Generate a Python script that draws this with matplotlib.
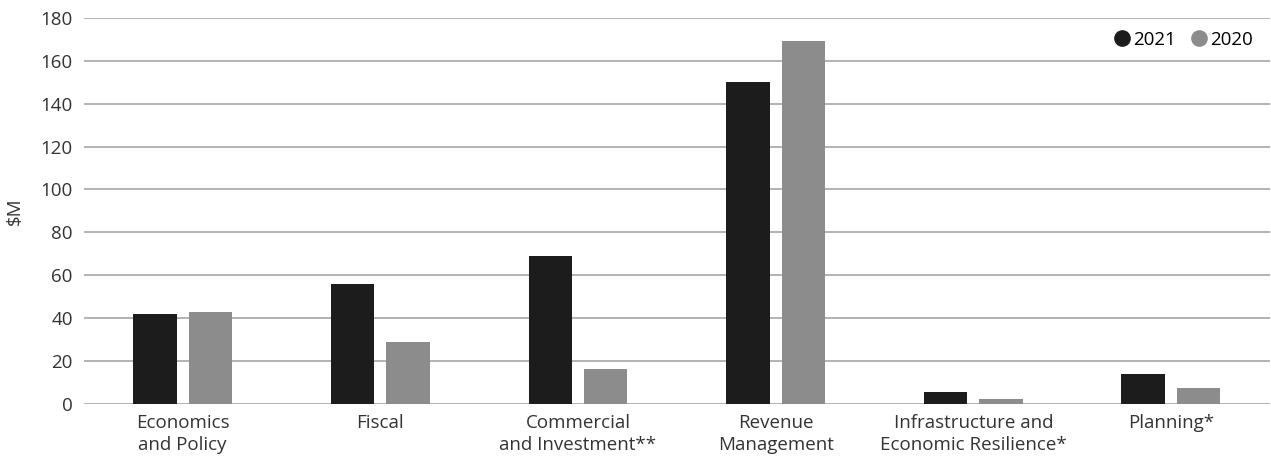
import numpy as np
import matplotlib.pyplot as plt
from matplotlib.lines import Line2D

plt.rcParams['font.family'] = ['Open Sans', 'DejaVu Sans']

categories = ["Economics\nand Policy", "Fiscal", "Commercial\nand Investment**",
              "Revenue\nManagement", "Infrastructure and\nEconomic Resilience*", "Planning*"]
values_2021 = [42, 56, 69, 150, 5.5, 14]
values_2020 = [43, 29, 16.5, 169, 2.5, 7.5]

col_2021 = '#1c1c1c'
col_2020 = '#8c8c8c'

fig = plt.figure(figsize=(12.71, 4.57), dpi=100)
ax = fig.add_axes([0.066, 0.116, 0.933, 0.845])

x = np.arange(len(categories))
w = 0.22
ax.bar(x - 0.14, values_2021, w, color=col_2021, zorder=3)
ax.bar(x + 0.14, values_2020, w, color=col_2020, zorder=3)

ax.set_xlim(-0.5, len(categories) - 0.5)
ax.set_ylim(0, 180)
ax.set_yticks(range(0, 181, 20))
ax.set_xticks(x)
ax.set_xticklabels(categories, fontsize=13.5, color='#333333', linespacing=1.3)
ax.tick_params(axis='y', labelsize=13.5, colors='#333333', length=0, pad=8)
ax.tick_params(axis='x', length=0, pad=7)
ax.grid(axis='y', color='#a6a6a6', linewidth=1.2, zorder=0)
for s in ax.spines.values():
    s.set_visible(False)
ax.set_ylabel('$M', fontsize=13.5, color='#333333', labelpad=12)

handles = [Line2D([], [], marker='o', linestyle='', color=col_2021, markersize=11),
           Line2D([], [], marker='o', linestyle='', color=col_2020, markersize=11)]
ax.legend(handles, ['2021', '2020'], loc='upper right', bbox_to_anchor=(1.0, 1.01), ncol=2,
          frameon=False, fontsize=13.5, handletextpad=0.2, columnspacing=0.8, handlelength=0.8)

fig.savefig('out.png', dpi=100)
